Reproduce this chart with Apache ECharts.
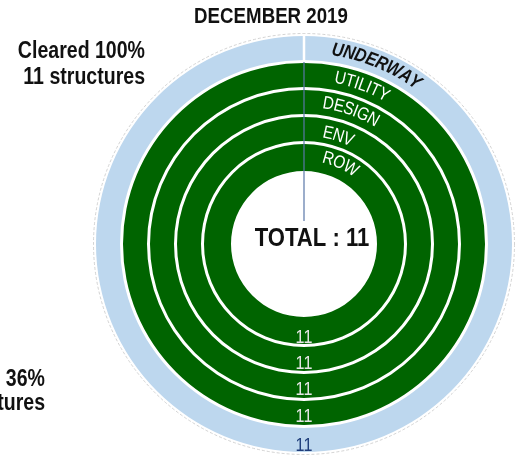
<!DOCTYPE html>
<html><head><meta charset="utf-8">
<script src="https://cdn.jsdelivr.net/npm/echarts@6/dist/echarts.min.js"></script>
<style>html,body{margin:0;padding:0;background:#fff}#c{width:519px;height:457px}</style>
</head><body><div id="c"></div>
<script>
// ---- data ----
const categories = ['ROW', 'ENV', 'DESIGN', 'UTILITY', 'UNDERWAY'];
const values = [11, 11, 11, 11, 11];
const totalStructures = 11;
const titleText = 'DECEMBER 2019';
const clearedLines = ['Cleared 100%', '11 structures'];
const completedLines = ['Completed 36%', '4 structures'];

// ---- layout ----
const FONT = '"Liberation Sans", Arial, sans-serif';
const SX = 0.85; // condensed look
const cx = 304, cy = 244;
const radii = [[73, 100], [103, 127], [130, 154], [157, 181], [184, 208]];
const ringColors = ['#006400', '#006400', '#006400', '#006400', '#BDD7EE'];
const labelStart = [19, 19, 19, 31, 28];
const labelRadiusAdj = [2, -2, 0, 0, 0];
const valueRadius = [94, 120, 146, 173, 202];

const chart = echarts.init(document.getElementById('c'), null, {renderer: 'canvas'});

const series = categories.map((name, i) => ({
  type: 'pie', silent: true, animation: false, z: 1,
  center: [cx, cy], radius: radii[i], startAngle: 90,
  label: {show: false}, labelLine: {show: false},
  itemStyle: {color: ringColors[i], borderWidth: 0},
  data: [{name: name, value: values[i]}]
}));

function txt(x, y, text, font, fill, align, extra) {
  return Object.assign({type: 'text', silent: true, z: 100, x: x, y: y, scaleX: SX,
    style: {text: text, font: font, fill: fill, textAlign: align, align: align,
      textVerticalAlign: 'middle', verticalAlign: 'middle'}}, extra || {});
}

const mctx = document.createElement('canvas').getContext('2d');
function arcText(text, r, startPx, font, color) {
  mctx.font = font;
  const els = [];
  let s = startPx;
  for (const ch of text) {
    const w = mctx.measureText(ch).width * SX;
    const th = (s + w / 2) / r;
    els.push(txt(cx + r * Math.sin(th), cy - r * Math.cos(th), ch, font, color, 'center', {rotation: -th}));
    s += w;
  }
  return els;
}

const graphics = [];
graphics.push({type: 'circle', silent: true, z: 100, shape: {cx: cx, cy: cy, r: 210.5},
  style: {fill: null, stroke: '#c8c8c8', lineWidth: 0.8, lineDash: [3, 2]}});
graphics.push({type: 'line', silent: true, z: 100, shape: {x1: cx, y1: cy - 209, x2: cx, y2: cy - 183},
  style: {stroke: '#ffffff', lineWidth: 2.5}});
graphics.push({type: 'line', silent: true, z: 100, shape: {x1: cx, y1: cy - 182, x2: cx, y2: cy - 23},
  style: {stroke: '#5A77A8', lineWidth: 1.2}});

categories.forEach((name, i) => {
  const r = (radii[i][0] + radii[i][1]) / 2 + labelRadiusAdj[i];
  const isOuter = i === categories.length - 1;
  const font = isOuter ? 'italic bold 19px ' + FONT : '18px ' + FONT;
  const color = isOuter ? '#111111' : '#ffffff';
  arcText(name, r, labelStart[i], font, color).forEach(e => graphics.push(e));
  graphics.push(txt(cx, cy + valueRadius[i], String(values[i]), '19px ' + FONT,
    isOuter ? '#1F3D7A' : '#E6E6E6', 'center'));
});

graphics.push(txt(312, 239, 'TOTAL : ' + totalStructures, 'bold 26px ' + FONT, '#111', 'center'));
graphics.push(txt(271, 17, titleText, 'bold 22px ' + FONT, '#111', 'center'));
clearedLines.forEach((t, k) => graphics.push(txt(145, 52 + k * 26, t, 'bold 23px ' + FONT, '#111', 'right')));
completedLines.forEach((t, k) => graphics.push(txt(45, 380 + k * 24, t, 'bold 23px ' + FONT, '#111', 'right')));

chart.setOption({animation: false, series: series, graphic: {elements: graphics}});
</script></body></html>
